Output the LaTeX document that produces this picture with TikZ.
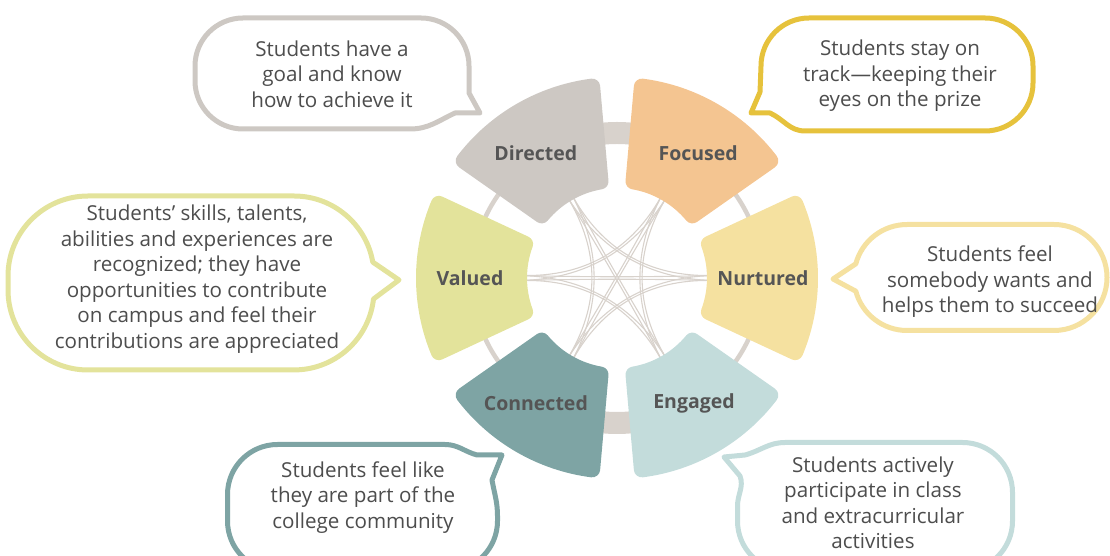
\documentclass[tikz,border=0pt]{standalone}
\usepackage{fontspec}
\setmainfont{Open Sans}
\usetikzlibrary{calc}
\definecolor{dirc}{HTML}{CDC8C3}
\definecolor{focc}{HTML}{F4C591}
\definecolor{nurc}{HTML}{F5E1A0}
\definecolor{engc}{HTML}{C3DCDB}
\definecolor{conc}{HTML}{7EA4A4}
\definecolor{valc}{HTML}{E3E39B}
\definecolor{focb}{HTML}{E6C23C}
\definecolor{ringc}{HTML}{D8D2CC}
\definecolor{txtc}{HTML}{4D4D4D}
\definecolor{lblc}{HTML}{555555}

\begin{document}
\begin{tikzpicture}[x=1pt,y=1pt,
  seg/.style={fill=#1,draw=#1,line width=16pt,line join=round},
  lbl/.style={text=lblc,font=\fontsize{19.5}{23}\selectfont\bfseries},
  bubble/.style={draw=#1,line width=5pt,fill=white,line join=round},
  txt/.style={text=txtc,align=center,font=\fontsize{20.6}{25.5}\selectfont},
  chord/.style={draw=ringc,line width=1.1pt}]
\useasboundingbox (0,0) rectangle (1110,556);
\coordinate (o) at (617,278);

\begin{scope}[shift={(o)}]
 \draw[ringc,line width=4.5pt] (0,0) circle[radius=145];
 \draw[ringc,line width=22pt] (84:145) arc[start angle=84,end angle=96,radius=145];
 \draw[ringc,line width=22pt] (264:145) arc[start angle=264,end angle=276,radius=145];
 \foreach \n/\a in {dir/120,foc/60,nur/0,eng/300,con/240,val/180}{
   \coordinate (\n-1) at (\a+1.5:96);
   \coordinate (\n-2) at (\a-1.5:96);
 }
\end{scope}

\foreach \p/\q in {dir/nur,dir/eng,dir/con,foc/val,foc/con,foc/eng,val/nur,val/eng,nur/con}{
  \draw[chord] (\p-1) .. controls ($(\p-1)!2/3!(o)$) and ($(\q-2)!2/3!(o)$) .. (\q-2);
  \draw[chord] (\p-2) .. controls ($(\p-2)!2/3!(o)$) and ($(\q-1)!2/3!(o)$) .. (\q-1);
}

\begin{scope}[shift={(o)}]
 \foreach \c/\a in {dirc/95,focc/35,nurc/-25,engc/275,conc/215,valc/155}
   \draw[seg=\c] (\a+2.4:193) arc[start angle=\a+2.4,end angle=\a+47.6,radius=193]
     -- (\a+45.3:98) arc[start angle=\a+45.3,end angle=\a+4.7,radius=98] -- cycle;
 \node[lbl] (dir) at (123:149) {Directed};
 \node[lbl] (foc) at (57:149) {Focused};
 \node[lbl] (nur) at (0:146) {Nurtured};
 \node[lbl] (eng) at (301.6:147) {Engaged};
 \node[lbl] (con) at (237:149) {Connected};
 \node[lbl] (val) at (180:147) {Valued};
\end{scope}

\draw[bubble=dirc] (243,538) -- (421,538) arc[start angle=90,end angle=0,radius=48] -- (469,463) -- (480,443) -- (455,443) to[out=205,in=0] (410,427) -- (243,427) arc[start angle=270,end angle=180,radius=48] -- (195,490) arc[start angle=180,end angle=90,radius=48] -- cycle;
\node[txt] (tdir) at (332,482) {Students have a\\goal and know\\how to achieve it};

\draw[bubble=focb] (809,538) -- (985,538) arc[start angle=90,end angle=0,radius=48] -- (1033,473) arc[start angle=0,end angle=-90,radius=48] -- (805,425) to[out=180,in=-25] (770,443) -- (751,443) -- (760,464) -- (761,490) arc[start angle=180,end angle=90,radius=48] -- cycle;
\node[txt] (tfoc) at (900,480) {Students stay on\\track---keeping their\\eyes on the prize};

\draw[bubble=valc] (88,360) -- (294,360) arc[start angle=90,end angle=10,radius=80] -- (399,276) -- (373.5,257) arc[start angle=-6.5,end angle=-90,radius=80] -- (88,186) arc[start angle=270,end angle=180,radius=80] -- (8,280) arc[start angle=180,end angle=90,radius=80] -- cycle;
\node[txt] (tval) at (197,277) {Students’ skills, talents,\\abilities and experiences are\\recognized; they have\\opportunities to contribute\\on campus and feel their\\contributions are appreciated};

\draw[bubble=nurc] (907,331.5) -- (1054,331.5) arc[start angle=90,end angle=-90,radius=53] -- (907,225.5) arc[start angle=270,end angle=195,radius=53] -- (833,277) -- (855.8,292.2) arc[start angle=165,end angle=90,radius=53] -- cycle;
\node[txt] (tnur) at (990,274) {Students feel\\somebody wants and\\helps them to succeed};

\draw[bubble=conc] (277.5,111.5) -- (445,111.5) to[out=0,in=165] (477,101) -- (502,101) -- (492,76) to[out=-80,in=90] (497.5,40) -- (497.5,35) arc[start angle=0,end angle=-90,radius=50] -- (277.5,-15) arc[start angle=270,end angle=180,radius=50] -- (227.5,61.5) arc[start angle=180,end angle=90,radius=50] -- cycle;
\node[txt] (tcon) at (363,58.5) {Students feel like\\they are part of the\\college community};

\draw[bubble=engc] (745,101) to[out=15,in=180] (785,113.5) -- (962.5,113.5) arc[start angle=90,end angle=0,radius=50] -- (1012.5,35) arc[start angle=0,end angle=-90,radius=50] -- (787.5,-15) arc[start angle=270,end angle=180,radius=50] -- (737.5,50) to[out=90,in=-70] (740,80) -- (724,99) -- cycle;
\node[txt] (teng) at (873,53) {Students actively\\participate in class\\and extracurricular\\activities};
\end{tikzpicture}
\end{document}
